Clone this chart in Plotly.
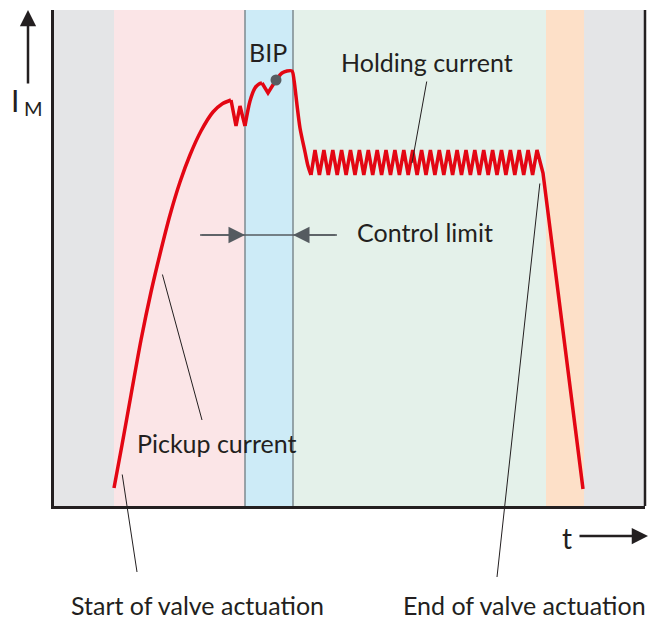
import plotly.graph_objects as go

# ---- data (time units, current units) ----
T_MAX = 591
I_MAX = 496

band_starts = [0, 60, 191, 239, 492, 530]
band_ends = [60, 191, 239, 492, 530, 591]
band_colors = ["#e4e5e7", "#fbe5e7", "#cdebf7", "#e4f1ea", "#fde0c8", "#e4e5e7"]

# smooth pickup rise
rise_t = [60, 68, 77, 87, 97, 106, 116, 126, 136, 147, 159, 168, 177]
rise_i = [18, 61, 111, 166, 214, 252, 291, 324, 351, 375, 394, 402, 406]

# first ripple (sharp)
ripple_t = [177, 182, 186, 191]
ripple_i = [406, 380, 400, 380]

# curved rise in BIP window
bip_rise_t = [191, 196, 201, 205, 208]
bip_rise_i = [380, 405, 418, 422, 423]

# small dip
dip_t = [208, 214, 222]
dip_i = [423, 413, 426]

# approach to plateau and drop
plateau_t = [222, 228, 233, 238, 240, 243, 246, 251, 254, 257]
plateau_i = [426, 433, 435, 435, 426, 401, 378, 354, 340, 331]

hold_t = [257.0, 261.0, 265.4, 269.9, 274.3, 278.8, 283.2, 287.6, 292.1, 296.5, 301.0,
          305.4, 309.8, 314.3, 318.7, 323.2, 327.6, 332.0, 336.5, 340.9, 345.4,
          349.8, 354.2, 358.7, 363.1, 367.6, 372.0, 376.4, 380.9, 385.3, 389.8,
          394.2, 398.6, 403.1, 407.5, 412.0, 416.4, 420.8, 425.3, 429.7, 434.2,
          438.6, 443.0, 447.5, 451.9, 456.4, 460.8, 465.2, 469.7, 474.1, 478.6,
          483.0, 489, 529]
hold_i = [331, 356, 331, 356, 331, 356, 331, 356, 331, 356, 331,
          356, 331, 356, 331, 356, 331, 356, 331, 356, 331,
          356, 331, 356, 331, 356, 331, 356, 331, 356, 331,
          356, 331, 356, 331, 356, 331, 356, 331, 356, 331,
          356, 331, 356, 331, 356, 331, 356, 331, 356, 331,
          356, 333, 17]

bip_point_t = [222]
bip_point_i = [426]

FONT = "Lato"
TXT = "#231f20"
RED = "#e30613"

fig = go.Figure()

segments = [
    (rise_t, rise_i, "spline"),
    (ripple_t, ripple_i, "linear"),
    (bip_rise_t, bip_rise_i, "spline"),
    (dip_t, dip_i, "linear"),
    (plateau_t, plateau_i, "spline"),
    (hold_t, hold_i, "linear"),
]
for tt, ii, shp in segments:
    fig.add_trace(go.Scatter(x=tt, y=ii, mode="lines",
                             line=dict(color=RED, width=3.5, shape=shp, smoothing=0.8),
                             hoverinfo="skip", showlegend=False))
fig.add_trace(go.Scatter(x=bip_point_t, y=bip_point_i, mode="markers",
                         marker=dict(color="#575c61", size=11),
                         hoverinfo="skip", showlegend=False))

shapes = []
for s, e, c in zip(band_starts, band_ends, band_colors):
    shapes.append(dict(type="rect", xref="x", yref="y", x0=s, x1=e, y0=0, y1=I_MAX,
                       fillcolor=c, line=dict(width=0), layer="below"))
for xv in [band_starts[2], band_ends[2]]:
    shapes.append(dict(type="line", xref="x", yref="y", x0=xv, x1=xv, y0=0, y1=I_MAX,
                       line=dict(color="#7d8a8f", width=1.5), layer="below"))
shapes.append(dict(type="line", xref="paper", yref="paper", x0=1, x1=1, y0=0, y1=1,
                   line=dict(color=TXT, width=2.5)))
shapes.append(dict(type="line", xref="x", yref="y", x0=146, x1=283, y0=271, y1=271,
                   line=dict(color="#555b60", width=1.5)))

annotations = []

def leader(x0, y0, x1, y1, head=0, color=TXT, width=1, size=1):
    annotations.append(dict(x=x1, y=y1, ax=x0, ay=y0, xref="x", yref="y",
                            axref="x", ayref="y", text="", showarrow=True,
                            arrowhead=head, arrowwidth=width, arrowcolor=color,
                            arrowsize=size, standoff=0, startstandoff=0))

def label(x, y, text, size, xanchor="center", xref="x", yref="y"):
    annotations.append(dict(x=x, y=y, xref=xref, yref=yref, text=text, showarrow=False,
                            xanchor=xanchor, yanchor="middle",
                            font=dict(family=FONT, size=size, color=TXT)))

leader(146, 271, 191, 271, head=2, color="#555b60", width=1.5, size=2.2)
leader(283, 271, 239, 271, head=2, color="#555b60", width=1.5, size=2.2)

leader(373, 426, 358, 343)          # holding current
leader(108, 233, 148, 86)           # pickup current
leader(68, 33, 83, -66)             # start of valve actuation
leader(486, 324, 443, -71)          # end of valve actuation

label(214, 454, "BIP", 25)
label(373, 444, "Holding current", 25)
label(301, 274, "Control limit", 25, xanchor="left")
label(81, 63, "Pickup current", 25, xanchor="left")
label(143, -99 / I_MAX, "Start of valve actuation", 25, yref="paper")
label(470, -99 / I_MAX, "End of valve actuation", 25, yref="paper")
label(513 / T_MAX, -32 / I_MAX, "t", 28, xref="paper", yref="paper")
label(-39 / T_MAX, 406 / I_MAX, "I", 30, xref="paper", yref="paper")
label(-21 / T_MAX, 398 / I_MAX, "M", 20, xref="paper", yref="paper")

# axis arrows (paper-referenced heads, pixel tails)
annotations.append(dict(x=-26 / T_MAX, y=1.0, xref="paper", yref="paper", ax=0, ay=75,
                        text="", showarrow=True, arrowhead=2, arrowwidth=2.5,
                        arrowsize=1.3, arrowcolor=TXT, standoff=0))
annotations.append(dict(x=594 / T_MAX, y=-30 / I_MAX, xref="paper", yref="paper",
                        ax=-70, ay=0, text="", showarrow=True, arrowhead=2,
                        arrowwidth=2.5, arrowsize=1.3, arrowcolor=TXT, standoff=0))

fig.update_layout(
    width=648, height=611,
    margin=dict(l=46, r=11, t=2, b=113),
    paper_bgcolor="white", plot_bgcolor="white",
    shapes=shapes, annotations=annotations,
    xaxis=dict(range=[0, T_MAX], showgrid=False, zeroline=False, showticklabels=False,
               ticks="", showline=True, linecolor=TXT, linewidth=2.5),
    yaxis=dict(range=[0, I_MAX], showgrid=False, zeroline=False, showticklabels=False,
               ticks="", showline=True, linecolor=TXT, linewidth=2.5),
    font=dict(family=FONT),
)

fig.write_html("out.html")
